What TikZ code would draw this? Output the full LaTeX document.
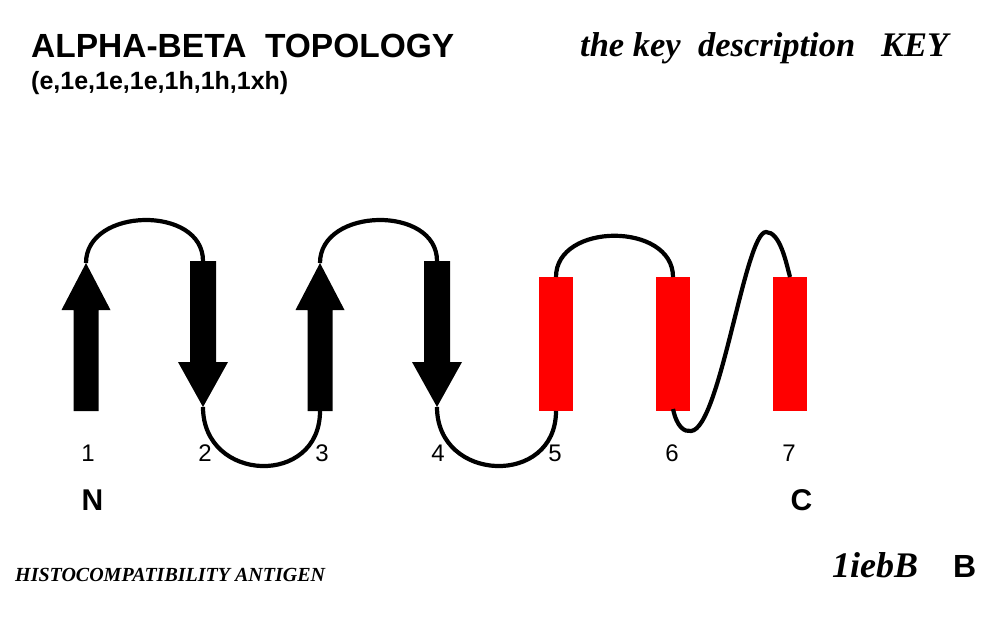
\documentclass[tikz,border=0pt]{standalone}
\usepackage{fontspec}
\setmainfont{Liberation Serif}
\setsansfont{Liberation Sans}
\begin{document}
\begin{tikzpicture}[x=1pt,y=-1pt,
  loopline/.style={line width=4.2pt,black},
  strandshape/.style={fill=black,draw=none},
  helixshape/.style={fill=red,draw=none},
  numlabel/.style={anchor=base,inner sep=0pt,font=\sffamily\fontsize{24}{26}\selectfont},
  termlabel/.style={anchor=base,inner sep=0pt,font=\sffamily\bfseries\fontsize{30}{32}\selectfont},
  txt/.style={inner sep=0pt,anchor=base west}]
\useasboundingbox (0,0) rectangle (998,616);
% strand / helix end points
\coordinate (e1b) at (86,411);  \coordinate (e1t) at (86,263);
\coordinate (e2t) at (203,261); \coordinate (e2b) at (203,407);
\coordinate (e3b) at (320,411); \coordinate (e3t) at (320,263);
\coordinate (e4t) at (437,261); \coordinate (e4b) at (437,407);
\coordinate (h5b) at (556,411); \coordinate (h5t) at (556,277);
\coordinate (h6t) at (673,277); \coordinate (h6b) at (673,409);
\coordinate (h7t) at (790,277); \coordinate (h7b) at (790,411);
% up strands
\foreach \c in {86,320}{
  \fill[strandshape] (\c-12.5,411) -- (\c-12.5,310) -- (\c-24.5,310) -- (\c,263)
     -- (\c+24.5,310) -- (\c+12.5,310) -- (\c+12.5,411) -- cycle;}
% down strands
\foreach \c in {203,437}{
  \fill[strandshape] (\c-13,261) -- (\c-13,362) -- (\c-25,362) -- (\c,407)
     -- (\c+25,362) -- (\c+13,362) -- (\c+13,261) -- cycle;}
% helices
\foreach \c in {556,673,790}{
  \fill[helixshape] (\c-17,277) rectangle (\c+17,411);}
% connectors
\draw[loopline] (e1t) .. controls +(0,-56) and +(0,-56) .. (e2t);
\draw[loopline] (e2b) .. controls +(0,76) and +(0,76) .. (e3b);
\draw[loopline] (e3t) .. controls +(0,-56) and +(0,-56) .. (e4t);
\draw[loopline] (e4b) .. controls +(0,76) and +(0,76) .. (h5b);
\draw[loopline] (h5t) .. controls +(0,-55) and +(0,-55) .. (h6t);
\coordinate (s1) at (691,431);
\coordinate (s2) at (766,232);
\draw[loopline] (h6b) .. controls (677,427) and (684,432) .. (s1)
   .. controls (720,429) and (745,232) .. (s2)
   .. controls (780,232) and (786,262) .. (h7t);
% numbers
\node[numlabel] (n1) at (88,461) {1};
\node[numlabel] (n2) at (205,461) {2};
\node[numlabel] (n3) at (322,461) {3};
\node[numlabel] (n4) at (438,461) {4};
\node[numlabel] (n5) at (555,461) {5};
\node[numlabel] (n6) at (672,461) {6};
\node[numlabel] (n7) at (789,461) {7};
\node[termlabel] (nt) at (92.5,510) {N};
\node[termlabel] (ct) at (801.5,510) {C};
% texts
\node[txt,font=\sffamily\bfseries\fontsize{33.5}{36}\selectfont] (title) at (31,57) {ALPHA-BETA\ \ TOPOLOGY};
\node[txt,font=\sffamily\bfseries\fontsize{25}{27}\selectfont] (sub) at (31,89) {(e,1e,1e,1e,1h,1h,1xh)};
\node[txt,font=\rmfamily\bfseries\itshape\fontsize{34.5}{36}\selectfont] (key) at (580,56) {the key\ \ description\ \ \ KEY};
\node[txt,font=\rmfamily\bfseries\itshape\fontsize{20}{22}\selectfont] (prot) at (15,581) {HISTOCOMPATIBILITY ANTIGEN};
\node[txt,font=\rmfamily\bfseries\itshape\fontsize{36}{38}\selectfont] (pdb) at (832,577) {1iebB};
\node[txt,font=\sffamily\bfseries\fontsize{32}{34}\selectfont] (chain) at (953,577) {B};
\end{tikzpicture}
\end{document}
